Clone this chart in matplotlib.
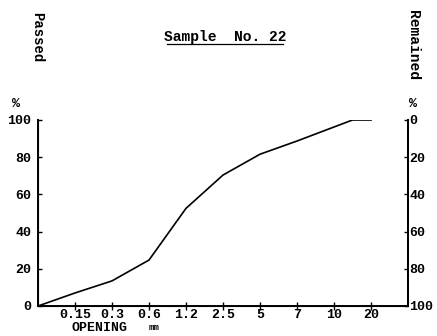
import matplotlib
matplotlib.use('Agg')
import matplotlib.pyplot as plt
from matplotlib.lines import Line2D

# sieve openings (mm), plotted at equal spacing
openings = ['0.15', '0.3', '0.6', '1.2', '2.5', '5', '7', '10', '20']
# grading curve: position along the sieve scale and % passed
curve_pos = [0, 1, 2, 3, 4, 5, 6, 7, 8.5, 9]
passed = [0, 7, 13.5, 24.7, 52.5, 70.4, 81.6, 88.7, 100, 100]
left_ticks = [0, 20, 40, 60, 80, 100]
right_ticks = [0, 20, 40, 60, 80, 100]

mono = 'Liberation Mono'
W, H = 437, 336

fig = plt.figure(figsize=(W / 100, H / 100), dpi=100, facecolor='white')
ax = fig.add_axes([38 / W, 1 - 306 / H, 370 / W, 186 / H])

ax.plot(curve_pos, passed, color='black', lw=1.2)
ax.set_xlim(0, 10)
ax.set_ylim(0, 100)

ax.spines['top'].set_visible(False)
for s in ['left', 'bottom', 'right']:
    ax.spines[s].set_linewidth(1.4)

ax.set_xticks(range(1, len(openings) + 1))
ax.set_xticklabels(openings, fontfamily=mono, fontweight='bold', fontsize=9.5)
ax.tick_params(axis='x', direction='inout', length=6, width=1.0, pad=-1)

ax.set_yticks(left_ticks)
ax.set_yticklabels([str(v) for v in left_ticks], fontfamily=mono,
                   fontweight='bold', fontsize=9.5)
ax.tick_params(axis='y', direction='in', length=3, width=1.0, pad=5)

# remained scale on the right, running the other way
ax2 = ax.twinx()
ax2.set_ylim(100, 0)
ax2.spines['top'].set_visible(False)
ax2.spines['right'].set_linewidth(1.4)
ax2.set_yticks(right_ticks)
ax2.set_yticklabels([str(v) for v in right_ticks], fontfamily=mono,
                    fontweight='bold', fontsize=9.5)
ax2.tick_params(axis='y', direction='in', length=3, width=1.0, pad=1)

txt = dict(fontfamily=mono, fontweight='bold', color='black')
fig.text(225 / W, 1 - 37 / H, 'Sample  No. 22', ha='center', va='center',
         fontsize=10.5, **txt)
fig.add_artist(Line2D([167 / W, 283 / W], [1 - 43.5 / H, 1 - 43.5 / H],
                      color='black', lw=0.9))
fig.text(37 / W, 1 - 37 / H, 'Passed', rotation=-90, ha='center',
         va='center', fontsize=10, **txt)
fig.text(413 / W, 1 - 45 / H, 'Remained', rotation=-90, ha='center',
         va='center', fontsize=10.5, **txt)
fig.text(16 / W, 1 - 104 / H, '%', ha='center', va='center',
         fontsize=9.5, **txt)
fig.text(413 / W, 1 - 104 / H, '%', ha='center', va='center',
         fontsize=9.5, **txt)
fig.text(100 / W, 1 - 328 / H, 'OPENING', ha='center', va='center',
         fontsize=9.5, **txt)
fig.text(154 / W, 1 - 328 / H, 'mm', ha='center', va='center',
         fontsize=6.5, **txt)

fig.savefig('out.png', dpi=100)
